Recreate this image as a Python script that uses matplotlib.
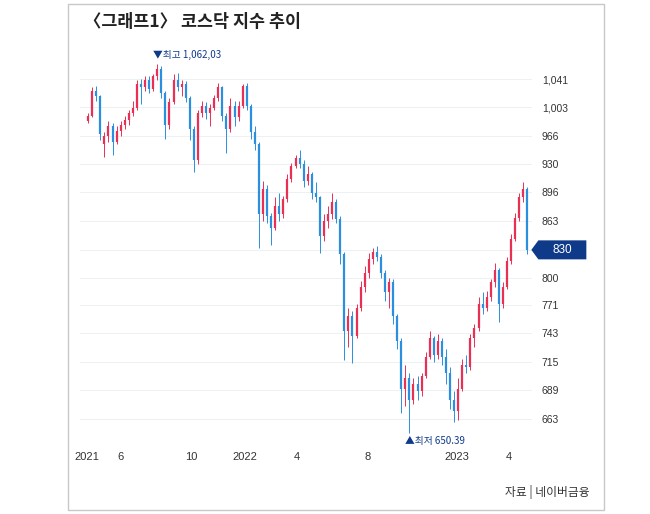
import numpy as np
import pandas as pd
import matplotlib
matplotlib.use('Agg')
import matplotlib.pyplot as plt
import matplotlib.dates as mdates
from matplotlib.patches import Polygon, Rectangle
from matplotlib.transforms import IdentityTransform
from matplotlib.ticker import NullLocator

plt.rcParams['font.family'] = ['Liberation Sans', 'Noto Sans CJK KR', 'DejaVu Sans']

# weekly candles (KOSDAQ, Apr 2021 - Apr 2023)
first_week = '2021-04-05'
opens = [985, 992, 1025, 1018, 955, 965, 978, 958, 972, 980,
         986, 995, 1002, 1035, 1030, 1040, 1028, 1045, 1055, 1022,
         980, 1010, 1040, 1030, 1035, 1015, 975, 935, 995, 1005,
         995, 1002, 1015, 1030, 992, 975, 1005, 990, 1005, 1032,
         1005, 970, 955, 870, 900, 868, 855, 880, 870, 888,
         912, 928, 938, 930, 910, 918, 895, 890, 845, 862,
         870, 885, 865, 825, 745, 760, 740, 768, 790, 805,
         820, 828, 822, 805, 785, 795, 760, 735, 690, 700,
         680, 695, 688, 702, 720, 738, 722, 735, 720, 705,
         680, 670, 690, 712, 710, 738, 748, 772, 768, 780,
         795, 808, 772, 790, 818, 842, 866, 890, 900]
highs = [995, 1031, 1032, 1020, 970, 985, 982, 978, 985, 992,
         1000, 1012, 1040, 1042, 1046, 1045, 1048, 1062.03, 1060, 1025,
         1015, 1048, 1050, 1040, 1038, 1018, 978, 1000, 1012, 1010,
         1008, 1020, 1036, 1032, 995, 1015, 1012, 1012, 1035, 1036,
         1008, 978, 958, 910, 905, 872, 890, 895, 892, 918,
         932, 942, 948, 935, 928, 920, 908, 892, 870, 880,
         895, 888, 868, 828, 768, 765, 772, 796, 812, 826,
         832, 834, 825, 808, 800, 798, 762, 738, 712, 705,
         700, 702, 705, 725, 745, 740, 742, 738, 728, 710,
         688, 700, 718, 722, 742, 752, 780, 785, 786, 798,
         816, 810, 795, 822, 848, 872, 895, 908, 902]
lows = [982, 990, 1012, 960, 939, 958, 942, 955, 965, 975,
        980, 992, 1000, 1008, 1025, 1022, 1025, 1040, 1015, 962,
        975, 1008, 1025, 1018, 1010, 960, 920, 930, 990, 988,
        978, 1000, 1012, 985, 944, 970, 978, 985, 1002, 1000,
        962, 948, 832, 862, 860, 835, 852, 862, 866, 885,
        908, 925, 925, 902, 905, 888, 884, 826, 840, 855,
        865, 860, 815, 717, 730, 714, 738, 765, 785, 800,
        815, 818, 800, 776, 768, 752, 728, 668, 675, 650.39,
        676, 680, 684, 700, 718, 715, 718, 712, 695, 672,
        660, 662, 688, 705, 708, 730, 745, 762, 765, 776,
        790, 754, 768, 788, 815, 840, 862, 885, 825]
closes = [992, 1025, 1018, 968, 965, 978, 958, 972, 980, 986,
          995, 1002, 1035, 1030, 1040, 1028, 1045, 1055, 1022, 980,
          1010, 1040, 1030, 1035, 1015, 975, 935, 995, 1005, 995,
          1002, 1015, 1030, 992, 975, 1005, 990, 1005, 1032, 1005,
          970, 955, 870, 900, 868, 855, 880, 870, 888, 912,
          928, 938, 930, 910, 918, 895, 890, 845, 862, 870,
          885, 865, 825, 745, 760, 740, 768, 790, 805, 820,
          828, 822, 805, 785, 795, 760, 735, 690, 700, 680,
          695, 688, 702, 720, 738, 722, 735, 720, 705, 680,
          670, 690, 712, 710, 738, 748, 772, 768, 780, 795,
          808, 772, 790, 818, 842, 866, 890, 900, 830]

ytick_vals = [663, 689, 715, 743, 771, 800, 830, 863, 896, 930, 966, 1003, 1041]
xtick_dates = ['2021-04-05', '2021-06-01', '2021-10-01', '2022-01-01',
               '2022-04-01', '2022-08-01', '2023-01-01', '2023-04-01']
xtick_labels = ['2021', '6', '10', '2022', '4', '8', '2023', '4']

RED = '#ea2f55'
BLUE = '#2b8fdf'
NAVY = '#0f3a8a'
KR = ['Noto Sans CJK KR', 'DejaVu Sans']

o = np.array(opens, float)
h = np.array(highs, float)
l = np.array(lows, float)
c = np.array(closes, float)
dates = pd.date_range(first_week, periods=len(c), freq='7D') + pd.Timedelta(days=2)
x = mdates.date2num(dates)

fig = plt.figure(figsize=(6.5, 5.14), dpi=100)
fig.add_artist(Rectangle((68 / 650, 1 - 510 / 514), 536 / 650, 506 / 514,
                         transform=fig.transFigure, fill=False,
                         edgecolor='#c8c8c8', lw=1))

ax = fig.add_axes([80 / 650, 74 / 514, 452 / 650, 380 / 514])
ax.set_yscale('log')
ax.set_ylim(644.8, 1068)
start = mdates.date2num(pd.Timestamp(first_week))
ax.set_xlim(start - 12, start + 766)

cols = np.where(c >= o, RED, BLUE)
ax.vlines(x, l, h, colors=cols, lw=0.7)
ax.vlines(x, np.minimum(o, c), np.maximum(o, c), colors=cols, lw=1.6)

ax.yaxis.tick_right()
ax.set_yticks(ytick_vals)
ax.set_yticklabels(['' if v == 830 else f'{v:,}' for v in ytick_vals])
ax.yaxis.set_minor_locator(NullLocator())
ax.tick_params(axis='y', length=0, pad=7, labelsize=7.5, labelcolor='#333333')
ax.set_xticks(mdates.date2num(pd.to_datetime(xtick_dates)))
ax.set_xticklabels(xtick_labels)
ax.tick_params(axis='x', length=0, pad=9, labelsize=8, labelcolor='#333333')
ax.grid(axis='y', color='#eef1f4', lw=0.7)
ax.set_axisbelow(True)
for s in ax.spines.values():
    s.set_visible(False)

ip = int(np.argmax(h))
ax.annotate('▼최고 1,062,03', xy=(x[ip], h[ip]), xytext=(-4, 4),
            textcoords='offset pixels', ha='left', va='bottom',
            fontsize=7, color=NAVY, family=KR)
il = int(np.argmin(l))
ax.annotate('▲최저 650.39', xy=(x[il], l[il]), xytext=(-4, -3),
            textcoords='offset pixels', ha='left', va='top',
            fontsize=7, color=NAVY, family=KR)

# last value marker
xd, yd = ax.transData.transform((x[-1], c[-1]))
tip = xd + 4
fig.add_artist(Polygon([(tip, yd), (tip + 7, yd + 9.5), (tip + 55, yd + 9.5),
                        (tip + 55, yd - 9.5), (tip + 7, yd - 9.5)],
                       closed=True, facecolor=NAVY, edgecolor='none',
                       transform=IdentityTransform()))
fig.text(tip + 31, yd, f'{c[-1]:.0f}', transform=IdentityTransform(),
         ha='center', va='center', color='white', fontsize=8.5)

fig.text(84 / 650, 1 - 22 / 514, '〈그래프1〉 코스닥 지수 추이', fontsize=12.5,
         fontweight='bold', va='center', color='#222222', family=KR)
fig.text(590 / 650, 1 - 492 / 514, '자료 | 네이버금융', ha='right', va='center',
         fontsize=8.5, color='#333333', family=KR)

fig.savefig('out.png', dpi=100)
